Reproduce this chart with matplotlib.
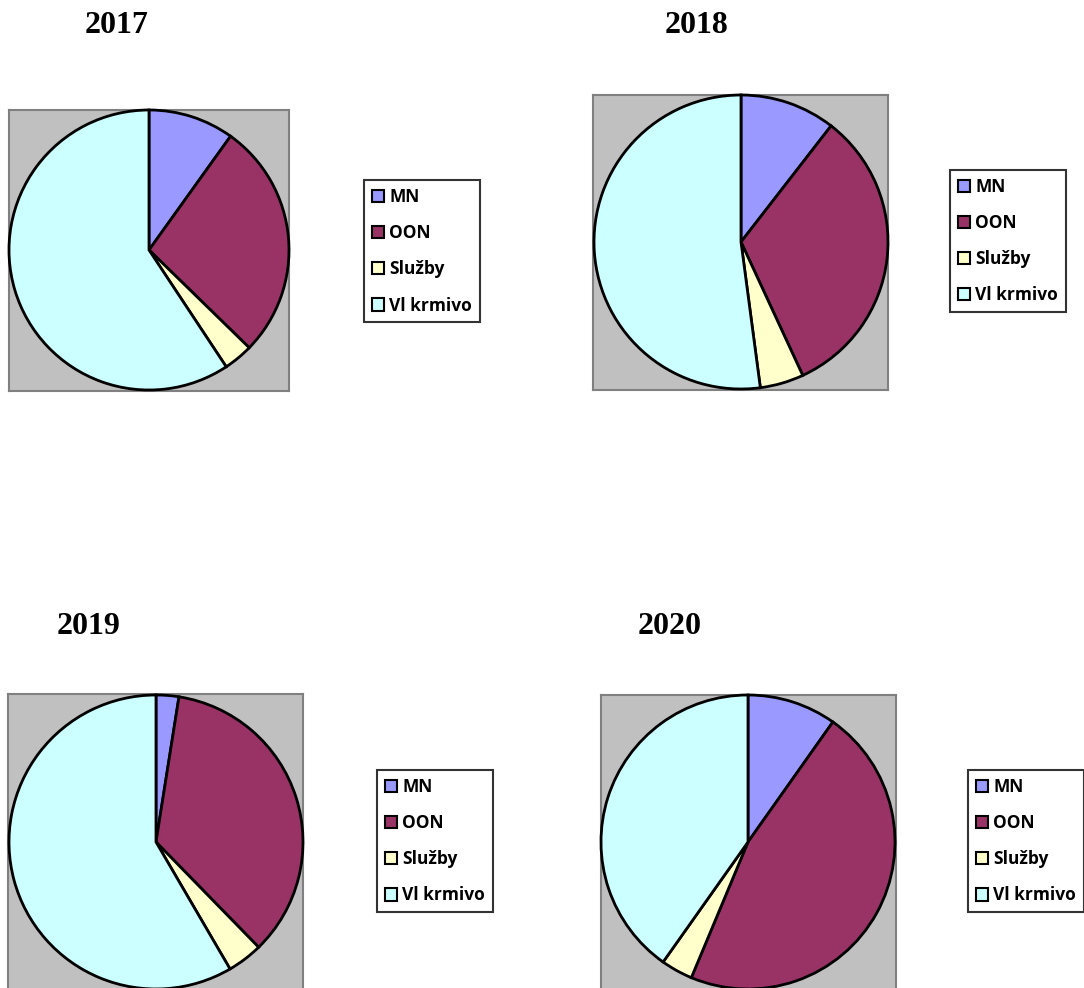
import matplotlib.pyplot as plt
from matplotlib.patches import Patch

labels = ["MN", "OON", "Služby", "Vl krmivo"]
colors = ["#9999FF", "#993366", "#FFFFCC", "#CCFFFF"]

years = ["2017", "2018", "2019", "2020"]
shares = {
    "2017": [9.9, 27.4, 3.4, 59.3],
    "2018": [10.5, 32.6, 4.8, 52.1],
    "2019": [2.5, 35.2, 3.9, 58.4],
    "2020": [9.8, 46.5, 3.5, 40.2],
}

W, H = 1084, 988

# layout in pixels: grey box (x0, y0, x1, y1), pie centre, radius, legend anchor, title (centre x, baseline y)
layout = {
    "2017": dict(box=(9, 110, 289, 391), c=(149, 250), r=140, leg=(364, 180), title=(117, 33)),
    "2018": dict(box=(593, 95, 888, 390), c=(741, 242), r=147, leg=(950, 170), title=(697, 33)),
    "2019": dict(box=(8, 694, 303, 990), c=(156, 842), r=147, leg=(377, 770), title=(89, 634)),
    "2020": dict(box=(601, 695, 896, 990), c=(748, 842), r=147, leg=(968, 770), title=(670, 634)),
}


def main():
    fig = plt.figure(figsize=(W / 100, H / 100), dpi=100)
    fig.patch.set_facecolor("white")

    handles = [Patch(facecolor=c, edgecolor="black", linewidth=1.5) for c in colors]

    for y in years:
        L = layout[y]
        x0, y0, x1, y1 = L["box"]
        cx, cy = L["c"]
        ax = fig.add_axes([x0 / W, 1 - y1 / H, (x1 - x0) / W, (y1 - y0) / H])
        wedges, _ = ax.pie(shares[y], colors=colors, startangle=90, counterclock=False,
                           radius=L["r"], wedgeprops=dict(edgecolor="black", linewidth=2))
        for w in wedges:
            w.set_clip_on(False)
            w.set_zorder(3)
        # pie() switches the frame off, bring the grey plot area back
        ax.set_frame_on(True)
        ax.set_facecolor("#C0C0C0")
        for s in ax.spines.values():
            s.set_visible(True)
            s.set_color("#808080")
            s.set_linewidth(1.5)
        ax.set_xlim(x0 - cx, x1 - cx)
        ax.set_ylim(cy - y1, cy - y0)
        ax.set_aspect("equal")
        ax.set_xticks([])
        ax.set_yticks([])

        tx, ty = L["title"]
        fig.text(tx / W, 1 - ty / H, y, ha="center", va="baseline",
                 fontsize=23, fontweight="bold", family="Liberation Serif")

        lx, ly = L["leg"]
        leg = fig.legend(handles, labels, loc="upper left",
                         bbox_to_anchor=(lx / W, 1 - ly / H),
                         prop=dict(family="Open Sans", weight="bold", size=12.5),
                         frameon=True, fancybox=False, edgecolor="black",
                         handlelength=0.7, handleheight=0.7, handletextpad=0.3,
                         labelspacing=1.05, borderpad=0.45, borderaxespad=0)
        leg.get_frame().set_linewidth(1.5)
        leg.get_frame().set_facecolor("white")

    fig.savefig("out.png", dpi=100)
    plt.close(fig)


if __name__ == "__main__":
    main()
